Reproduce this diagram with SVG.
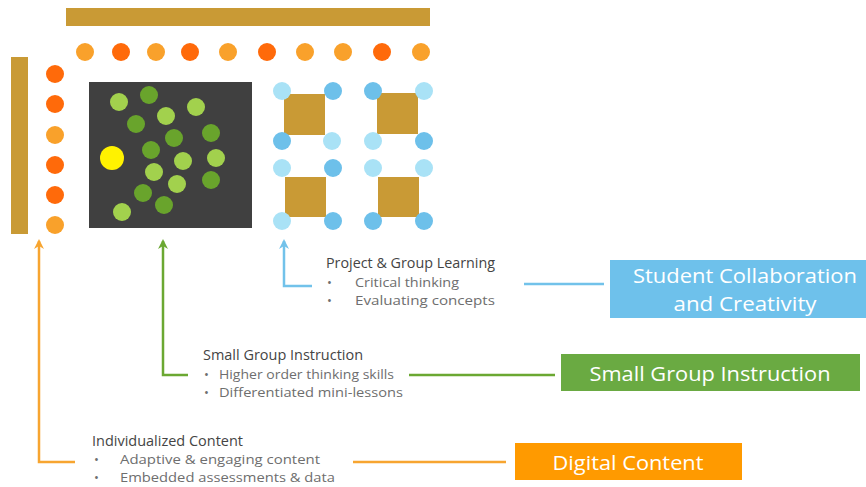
<svg xmlns="http://www.w3.org/2000/svg" width="866" height="487" viewBox="0 0 866 487">
<defs>
<style>
.bar{fill:#C99A35}
.o1{fill:#F9A12B}
.o2{fill:#FF6A0A}
.g1{fill:#A2D14D}
.g2{fill:#69A42C}
.b1{fill:#A9E2F6}
.b2{fill:#6DC0EA}
.sq{fill:#C99A35}
.t{font-family:"Open Sans","Liberation Sans",sans-serif;fill:#6e6e6e;font-size:13px}
.th{font-family:"Open Sans","Liberation Sans",sans-serif;fill:#444444;font-size:14px}
.bx{font-family:"Open Sans","Liberation Sans",sans-serif;fill:#ffffff;font-size:20.5px}
.lo{stroke:#F7A530;stroke-width:2.5;fill:none}
.lg{stroke:#6BA832;stroke-width:2.5;fill:none}
.lb{stroke:#72C2EA;stroke-width:2.5;fill:none}
</style>
<marker id="ao" viewBox="0 0 10 10" refX="8" refY="5" markerWidth="4" markerHeight="4" orient="auto"><path d="M0,0 L10,5 L0,10 L3,5 z" fill="#F7A530"/></marker>
<marker id="ag" viewBox="0 0 10 10" refX="8" refY="5" markerWidth="4" markerHeight="4" orient="auto"><path d="M0,0 L10,5 L0,10 L3,5 z" fill="#6BA832"/></marker>
<marker id="ab" viewBox="0 0 10 10" refX="8" refY="5" markerWidth="4" markerHeight="4" orient="auto"><path d="M0,0 L10,5 L0,10 L3,5 z" fill="#72C2EA"/></marker>
</defs>
<rect width="866" height="487" fill="#ffffff"/>

<g id="frame">
<rect class="bar" x="66" y="8" width="364" height="18"/>
<rect class="bar" x="11" y="57" width="17" height="177"/>
<circle class="o1" cx="85" cy="52" r="9"/>
<circle class="o2" cx="121" cy="52" r="9"/>
<circle class="o1" cx="156" cy="52" r="9"/>
<circle class="o2" cx="190" cy="52" r="9"/>
<circle class="o1" cx="228" cy="52" r="9"/>
<circle class="o2" cx="267" cy="52" r="9"/>
<circle class="o1" cx="305" cy="52" r="9"/>
<circle class="o1" cx="343" cy="52" r="9"/>
<circle class="o2" cx="382" cy="52" r="9"/>
<circle class="o1" cx="421" cy="52" r="9"/>
<circle class="o2" cx="55" cy="74" r="9"/>
<circle class="o2" cx="55" cy="104" r="9"/>
<circle class="o1" cx="55" cy="135" r="9"/>
<circle class="o2" cx="55" cy="165" r="9"/>
<circle class="o2" cx="55" cy="195" r="9"/>
<circle class="o1" cx="55" cy="225" r="9"/>
</g>

<g id="small-group-area">
<rect x="89" y="82" width="163" height="146" fill="#404040"/>
<circle class="g1" cx="119" cy="102" r="9"/>
<circle class="g2" cx="149" cy="95" r="9"/>
<circle class="g1" cx="196" cy="107" r="9"/>
<circle class="g1" cx="166" cy="116" r="9"/>
<circle class="g2" cx="136" cy="124" r="9"/>
<circle class="g2" cx="174" cy="138" r="9"/>
<circle class="g2" cx="211" cy="133" r="9"/>
<circle class="g2" cx="151" cy="150" r="9"/>
<circle cx="112" cy="158" r="12" fill="#FFF200"/>
<circle class="g1" cx="183" cy="161" r="9"/>
<circle class="g1" cx="216" cy="158" r="9"/>
<circle class="g1" cx="154" cy="172" r="9"/>
<circle class="g1" cx="177" cy="184" r="9"/>
<circle class="g2" cx="211" cy="180" r="9"/>
<circle class="g2" cx="143" cy="193" r="9"/>
<circle class="g2" cx="164" cy="205" r="9"/>
<circle class="g1" cx="122" cy="212" r="9"/>
</g>

<g id="group-tables">
<rect class="sq" x="284" y="94" width="41" height="41"/>
<circle class="b1" cx="282" cy="91" r="9"/>
<circle class="b2" cx="333" cy="91" r="9"/>
<circle class="b2" cx="282" cy="141" r="9"/>
<circle class="b1" cx="332" cy="141" r="9"/>
<rect class="sq" x="377" y="93" width="41" height="41"/>
<circle class="b2" cx="373" cy="91" r="9"/>
<circle class="b1" cx="424" cy="91" r="9"/>
<circle class="b1" cx="373" cy="141" r="9"/>
<circle class="b2" cx="424" cy="141" r="9"/>
<rect class="sq" x="285" y="177" width="41" height="40"/>
<circle class="b1" cx="282" cy="168" r="9"/>
<circle class="b2" cx="333" cy="168" r="9"/>
<circle class="b1" cx="282" cy="221" r="9"/>
<circle class="b2" cx="333" cy="221" r="9"/>
<rect class="sq" x="378" y="177" width="41" height="40"/>
<circle class="b1" cx="373" cy="168" r="9"/>
<circle class="b1" cx="424" cy="168" r="9"/>
<circle class="b2" cx="373" cy="221" r="9"/>
<circle class="b2" cx="424" cy="221" r="9"/>
</g>

<g id="connectors">
<path class="lo" d="M75,462 H39 V241" marker-end="url(#ao)"/>
<path class="lo" d="M353,462 H506"/>
<path class="lg" d="M188,375 H163 V241" marker-end="url(#ag)"/>
<path class="lg" d="M409,375 H555"/>
<path class="lb" d="M312,286 H284 V241" marker-end="url(#ab)"/>
<path class="lb" d="M524,284 H604"/>
</g>

<g id="label-project">
<text class="th" x="326" y="268" textLength="169" lengthAdjust="spacingAndGlyphs">Project &amp; Group Learning</text>
<text class="t" x="327" y="287">•</text>
<text class="t" x="355" y="287" textLength="104" lengthAdjust="spacingAndGlyphs">Critical thinking</text>
<text class="t" x="327" y="305">•</text>
<text class="t" x="355" y="305" textLength="140" lengthAdjust="spacingAndGlyphs">Evaluating concepts</text>
</g>

<g id="label-small-group">
<text class="th" x="203" y="360" textLength="160" lengthAdjust="spacingAndGlyphs">Small Group Instruction</text>
<text class="t" x="204" y="379">•</text>
<text class="t" x="219" y="379" textLength="175" lengthAdjust="spacingAndGlyphs">Higher order thinking skills</text>
<text class="t" x="204" y="397">•</text>
<text class="t" x="219" y="397" textLength="184" lengthAdjust="spacingAndGlyphs">Differentiated mini-lessons</text>
</g>

<g id="label-individual">
<text class="th" x="92" y="446" textLength="151" lengthAdjust="spacingAndGlyphs">Individualized Content</text>
<text class="t" x="94" y="464">•</text>
<text class="t" x="120" y="464" textLength="200" lengthAdjust="spacingAndGlyphs">Adaptive &amp; engaging content</text>
<text class="t" x="94" y="482">•</text>
<text class="t" x="120" y="482" textLength="215" lengthAdjust="spacingAndGlyphs">Embedded assessments &amp; data</text>
</g>

<g id="box-collab">
<rect x="610" y="260" width="256" height="58" fill="#6EC1EB"/>
<text class="bx" x="745" y="283" text-anchor="middle" textLength="224" lengthAdjust="spacingAndGlyphs">Student Collaboration</text>
<text class="bx" x="745" y="311" text-anchor="middle" textLength="143" lengthAdjust="spacingAndGlyphs">and Creativity</text>
</g>

<g id="box-small-group">
<rect x="561" y="354" width="299" height="37" fill="#6AAA42"/>
<text class="bx" x="710" y="381" text-anchor="middle" textLength="241" lengthAdjust="spacingAndGlyphs">Small Group Instruction</text>
</g>

<g id="box-digital">
<rect x="515" y="443" width="227" height="37" fill="#FF9A00"/>
<text class="bx" x="628" y="470" text-anchor="middle" textLength="151" lengthAdjust="spacingAndGlyphs">Digital Content</text>
</g>
</svg>
